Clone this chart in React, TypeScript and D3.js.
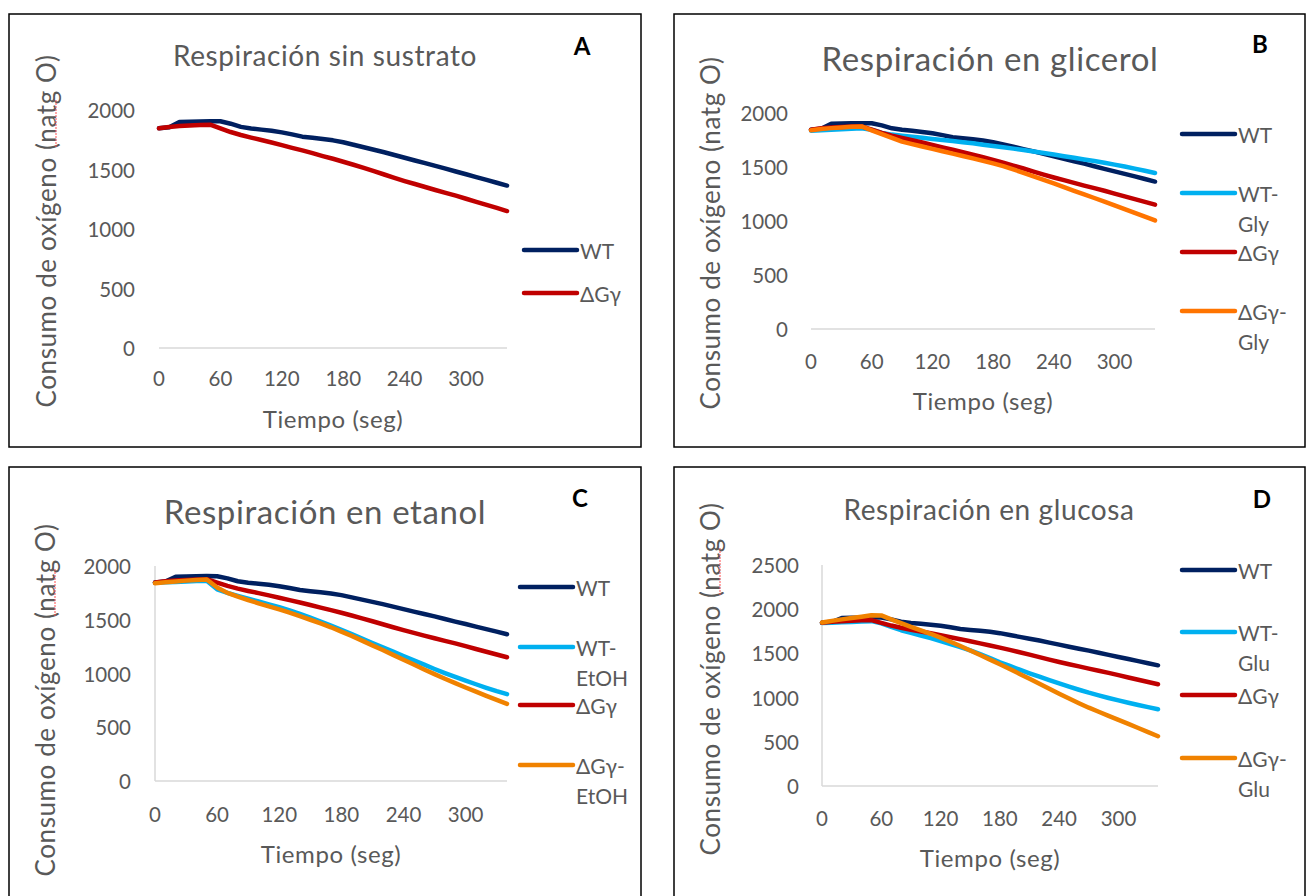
import React, { useEffect, useRef } from 'react';
import * as d3 from 'd3';

// time (s) sampled every 10 s
const seconds = [0, 10, 20, 30, 40, 50, 60, 70, 80, 90, 100, 110, 120, 130, 140, 150, 160, 170, 180, 190, 200, 210, 220, 230, 240, 250, 260, 270, 280, 290, 300, 310, 320, 330, 340];
const xTicks = [0, 60, 120, 180, 240, 300];
const yTicksA = [0, 500, 1000, 1500, 2000];
const yTicksD = [0, 500, 1000, 1500, 2000, 2500];

const wt = [1846, 1855, 1900, 1902, 1904, 1906, 1905, 1885, 1858, 1845, 1835, 1825, 1812, 1795, 1776, 1766, 1756, 1745, 1729, 1708, 1687, 1666, 1645, 1622, 1599, 1576, 1553, 1531, 1507, 1483, 1460, 1436, 1413, 1389, 1365];
const dGy = [1846, 1858, 1865, 1870, 1874, 1877, 1845, 1815, 1790, 1768, 1748, 1727, 1705, 1682, 1661, 1637, 1613, 1590, 1565, 1540, 1513, 1486, 1458, 1430, 1403, 1378, 1353, 1328, 1304, 1280, 1254, 1228, 1202, 1177, 1151];
const wtGly = [1836, 1840, 1845, 1850, 1855, 1858, 1845, 1815, 1800, 1790, 1780, 1770, 1760, 1750, 1740, 1730, 1719, 1707, 1695, 1683, 1670, 1657, 1643, 1629, 1615, 1600, 1585, 1570, 1555, 1540, 1522, 1505, 1485, 1465, 1445];
const dGyGly = [1840, 1852, 1860, 1866, 1872, 1876, 1840, 1805, 1770, 1735, 1712, 1690, 1668, 1646, 1624, 1602, 1580, 1557, 1533, 1508, 1478, 1446, 1413, 1380, 1348, 1314, 1280, 1247, 1213, 1180, 1145, 1110, 1075, 1040, 1005];
const wtEtOH = [1845, 1848, 1852, 1856, 1860, 1862, 1783, 1750, 1722, 1695, 1670, 1643, 1617, 1587, 1554, 1519, 1483, 1445, 1406, 1366, 1325, 1284, 1243, 1203, 1163, 1122, 1082, 1042, 1004, 968, 934, 900, 867, 836, 808];
const dGyEtOH = [1840, 1848, 1856, 1864, 1870, 1875, 1800, 1750, 1715, 1683, 1653, 1624, 1596, 1566, 1533, 1500, 1466, 1430, 1390, 1350, 1306, 1262, 1219, 1173, 1128, 1083, 1038, 994, 951, 910, 870, 831, 792, 755, 718];
const wtGlu = [1845, 1848, 1852, 1856, 1860, 1865, 1840, 1800, 1762, 1732, 1703, 1673, 1640, 1605, 1572, 1535, 1492, 1448, 1400, 1358, 1316, 1275, 1236, 1198, 1160, 1124, 1089, 1056, 1026, 996, 968, 942, 916, 892, 868];
const dGyGlu = [1850, 1868, 1885, 1900, 1915, 1932, 1930, 1885, 1843, 1800, 1760, 1722, 1678, 1632, 1583, 1533, 1482, 1430, 1378, 1323, 1268, 1212, 1156, 1100, 1044, 990, 937, 886, 840, 794, 748, 702, 656, 610, 563];

const titles = ['Respiración sin sustrato', 'Respiración en glicerol', 'Respiración en etanol', 'Respiración en glucosa'];
const letters = ['A', 'B', 'C', 'D'];
const xTitle = 'Tiempo (seg)';
const yTitle = 'Consumo de oxígeno (natg O)';

const NAVY = '#002060';
const SKY = '#00B0F0';
const RED = '#C00000';
const TEXT = '#595959';
const FONT = "Lato, 'Open Sans', sans-serif";

type Series = { name: string[]; values: number[]; color: string };
type Panel = {
  box: [number, number, number, number];
  x0: number; x1: number; y0: number; yTop: number; yMax: number;
  yTicks: number[]; yLine: boolean; spell: boolean;
  yLabelX: number; xLabelY: number;
  title: string; titleX: number; titleY: number; titleSize: number;
  letter: string; letterX: number; letterY: number;
  xTitleX: number; xTitleY: number; yTitleX: number; yTitleY: number;
  legX0: number; legX1: number; legY: number[];
  series: Series[];
};

const panels: Panel[] = [
  {
    box: [9, 14, 641, 447], x0: 159, x1: 507, y0: 348, yTop: 110, yMax: 2000,
    yTicks: yTicksA, yLine: false, spell: true, yLabelX: 135, xLabelY: 378,
    title: titles[0], titleX: 325, titleY: 55, titleSize: 28,
    letter: letters[0], letterX: 582, letterY: 45,
    xTitleX: 333, xTitleY: 418, yTitleX: 46, yTitleY: 231,
    legX0: 524, legX1: 577, legY: [250, 293],
    series: [
      { name: ['WT'], values: wt, color: NAVY },
      { name: ['ΔGγ'], values: dGy, color: RED },
    ],
  },
  {
    box: [674, 14, 1305, 447], x0: 811, x1: 1155, y0: 329, yTop: 113, yMax: 2000,
    yTicks: yTicksA, yLine: false, spell: false, yLabelX: 788, xLabelY: 361,
    title: titles[1], titleX: 990, titleY: 58, titleSize: 33,
    letter: letters[1], letterX: 1260, letterY: 43,
    xTitleX: 983, xTitleY: 400, yTitleX: 710, yTitleY: 233,
    legX0: 1182, legX1: 1235, legY: [134, 193, 252, 311],
    series: [
      { name: ['WT'], values: wt, color: NAVY },
      { name: ['WT-', 'Gly'], values: wtGly, color: SKY },
      { name: ['ΔGγ'], values: dGy, color: RED },
      { name: ['ΔGγ-', 'Gly'], values: dGyGly, color: '#FF7400' },
    ],
  },
  {
    box: [9, 467, 641, 904], x0: 155, x1: 507, y0: 781, yTop: 566, yMax: 2000,
    yTicks: yTicksA, yLine: true, spell: true, yLabelX: 131, xLabelY: 814,
    title: titles[2], titleX: 325, titleY: 511, titleSize: 33,
    letter: letters[2], letterX: 580, letterY: 497,
    xTitleX: 331, xTitleY: 853, yTitleX: 45, yTitleY: 700,
    legX0: 520, legX1: 573, legY: [587, 647, 705, 765],
    series: [
      { name: ['WT'], values: wt, color: NAVY },
      { name: ['WT-', 'EtOH'], values: wtEtOH, color: SKY },
      { name: ['ΔGγ'], values: dGy, color: RED },
      { name: ['ΔGγ-', 'EtOH'], values: dGyEtOH, color: '#F08200' },
    ],
  },
  {
    box: [674, 467, 1305, 904], x0: 822, x1: 1158, y0: 786, yTop: 565, yMax: 2500,
    yTicks: yTicksD, yLine: true, spell: true, yLabelX: 799, xLabelY: 818,
    title: titles[3], titleX: 989, titleY: 509, titleSize: 28,
    letter: letters[3], letterX: 1262, letterY: 498,
    xTitleX: 990, xTitleY: 857, yTitleX: 710, yTitleY: 679,
    legX0: 1182, legX1: 1235, legY: [570, 632, 695, 758],
    series: [
      { name: ['WT'], values: wt, color: NAVY },
      { name: ['WT-', 'Glu'], values: wtGlu, color: SKY },
      { name: ['ΔGγ'], values: dGy, color: RED },
      { name: ['ΔGγ-', 'Glu'], values: dGyGlu, color: '#F08200' },
    ],
  },
];

function drawPanel(svg: d3.Selection<SVGSVGElement, unknown, null, undefined>, p: Panel) {
  const g = svg.append('g');

  g.append('rect')
    .attr('x', p.box[0]).attr('y', p.box[1])
    .attr('width', p.box[2] - p.box[0]).attr('height', p.box[3] - p.box[1])
    .attr('fill', '#fff').attr('stroke', '#000').attr('stroke-width', 1.5);

  const x = d3.scaleLinear().domain([0, 340]).range([p.x0, p.x1]);
  const y = d3.scaleLinear().domain([0, p.yMax]).range([p.y0, p.yTop]);

  // axis lines
  g.append('line')
    .attr('x1', x(0)).attr('x2', x(340)).attr('y1', y(0)).attr('y2', y(0))
    .attr('stroke', '#d9d9d9').attr('stroke-width', 1.5);
  if (p.yLine) {
    g.append('line')
      .attr('x1', x(0)).attr('x2', x(0)).attr('y1', y(0)).attr('y2', y(p.yMax))
      .attr('stroke', '#d9d9d9').attr('stroke-width', 1.5);
  }

  g.selectAll('text.yt').data(p.yTicks).join('text')
    .attr('class', 'yt')
    .attr('x', p.yLabelX).attr('y', (d) => y(d))
    .attr('text-anchor', 'end').attr('dominant-baseline', 'central')
    .attr('font-size', 20.5).attr('fill', TEXT)
    .text((d) => String(d));

  g.selectAll('text.xt').data(xTicks).join('text')
    .attr('class', 'xt')
    .attr('x', (d) => x(d)).attr('y', p.xLabelY)
    .attr('text-anchor', 'middle').attr('dominant-baseline', 'central')
    .attr('font-size', 20.5).attr('fill', TEXT)
    .text((d) => String(d));

  // series
  const line = d3.line<number>()
    .x((d, i) => x(seconds[i]))
    .y((d) => y(d));
  p.series.forEach((s) => {
    g.append('path')
      .attr('d', line(s.values))
      .attr('fill', 'none').attr('stroke', s.color).attr('stroke-width', 4.5)
      .attr('stroke-linejoin', 'round').attr('stroke-linecap', 'round');
  });

  // titles
  g.append('text')
    .attr('x', p.titleX).attr('y', p.titleY)
    .attr('text-anchor', 'middle').attr('dominant-baseline', 'central')
    .attr('font-size', p.titleSize).attr('letter-spacing', 0.6).attr('fill', TEXT)
    .text(p.title);
  g.append('text')
    .attr('x', p.letterX).attr('y', p.letterY)
    .attr('text-anchor', 'middle').attr('dominant-baseline', 'central')
    .attr('font-size', 24).attr('font-weight', 'bold').attr('fill', '#000')
    .text(p.letter);
  g.append('text')
    .attr('x', p.xTitleX).attr('y', p.xTitleY)
    .attr('text-anchor', 'middle').attr('dominant-baseline', 'central')
    .attr('font-size', 24).attr('letter-spacing', 0.6).attr('fill', TEXT)
    .text(xTitle);
  g.append('text')
    .attr('transform', `translate(${p.yTitleX},${p.yTitleY}) rotate(-90)`)
    .attr('text-anchor', 'middle').attr('dominant-baseline', 'central')
    .attr('font-size', 26).attr('letter-spacing', 0.6).attr('fill', TEXT)
    .text(yTitle);
  if (p.spell) {
    // spell-check squiggle under "natg"
    g.append('line')
      .attr('x1', p.yTitleX + 10).attr('x2', p.yTitleX + 10)
      .attr('y1', p.yTitleY - 131).attr('y2', p.yTitleY - 84)
      .attr('stroke', '#ff5050').attr('stroke-width', 1).attr('stroke-dasharray', '2,1');
  }

  // legend
  p.series.forEach((s, i) => {
    const ly = p.legY[i];
    g.append('line')
      .attr('x1', p.legX0).attr('x2', p.legX1).attr('y1', ly).attr('y2', ly)
      .attr('stroke', s.color).attr('stroke-width', 4.5).attr('stroke-linecap', 'round');
    s.name.forEach((nm, k) => {
      g.append('text')
        .attr('x', p.legX1 + 3).attr('y', ly + k * 30)
        .attr('dominant-baseline', 'central')
        .attr('font-size', 21).attr('fill', TEXT)
        .text(nm);
    });
  });
}

export default function App() {
  const ref = useRef<SVGSVGElement>(null);

  useEffect(() => {
    const svg = d3.select(ref.current as SVGSVGElement);
    svg.selectAll('*').remove();
    svg.append('rect').attr('width', 1308).attr('height', 896).attr('fill', '#fff');
    panels.forEach((p) => drawPanel(svg, p));
  }, []);

  return (
    <svg
      ref={ref}
      width={1308}
      height={896}
      style={{ position: 'absolute', left: 0, top: 0, fontFamily: FONT }}
    />
  );
}
